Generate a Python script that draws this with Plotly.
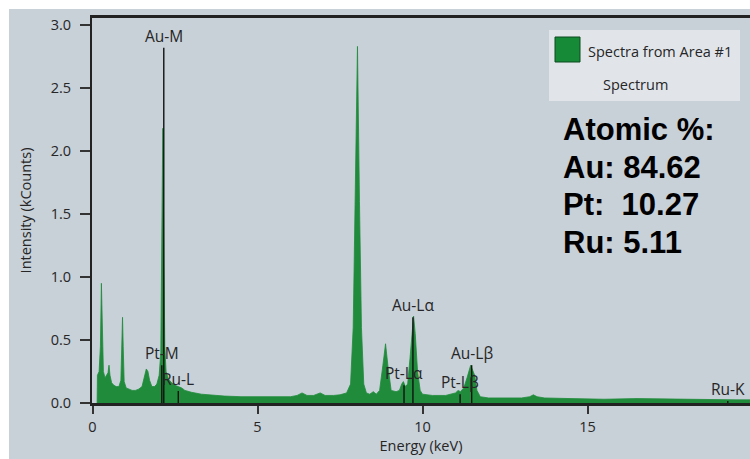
import plotly.graph_objects as go

# ---------------- data ----------------
energy_kev = [0.14, 0.15, 0.20, 0.24, 0.27, 0.30, 0.33, 0.38, 0.42, 0.47, 0.50, 0.53, 0.58, 0.65,
              0.72, 0.80, 0.86, 0.89, 0.91, 0.93, 0.96, 1.02, 1.10, 1.20, 1.30, 1.40, 1.50, 1.57,
              1.63, 1.68, 1.73, 1.80, 1.88, 1.95, 2.02, 2.07, 2.10, 2.13, 2.16, 2.19, 2.23, 2.30,
              2.40, 2.50, 2.60, 2.70, 2.80, 3.00, 3.30, 3.70, 4.00, 4.50, 5.00, 5.50, 6.00, 6.20,
              6.35, 6.50, 6.70, 6.90, 7.05, 7.30, 7.50, 7.70, 7.82, 7.90, 7.96, 8.03, 8.09, 8.15,
              8.22, 8.30, 8.40, 8.51, 8.60, 8.70, 8.80, 8.88, 8.95, 9.05, 9.20, 9.30, 9.37, 9.42,
              9.48, 9.55, 9.62, 9.70, 9.73, 9.78, 9.85, 9.93, 10.00, 10.30, 10.70, 11.00, 11.08,
              11.15, 11.25, 11.35, 11.46, 11.52, 11.58, 11.65, 11.75, 12.00, 12.50, 13.00, 13.25,
              13.36, 13.47, 13.70, 14.50, 15.50, 16.50, 17.50, 18.50, 19.50, 20.00]
counts_k = [0.00, 0.22, 0.25, 0.45, 0.95, 0.45, 0.25, 0.20, 0.22, 0.24, 0.30, 0.22, 0.16, 0.14,
            0.13, 0.13, 0.18, 0.45, 0.68, 0.45, 0.17, 0.12, 0.11, 0.10, 0.10, 0.11, 0.13, 0.20,
            0.27, 0.25, 0.18, 0.13, 0.13, 0.15, 0.22, 0.40, 1.20, 2.18, 1.30, 0.45, 0.25, 0.19,
            0.16, 0.14, 0.13, 0.12, 0.10, 0.085, 0.07, 0.06, 0.055, 0.05, 0.05, 0.048, 0.05, 0.06,
            0.08, 0.06, 0.06, 0.08, 0.06, 0.06, 0.065, 0.08, 0.15, 0.60, 1.60, 2.83, 1.60, 0.60,
            0.15, 0.08, 0.07, 0.09, 0.07, 0.10, 0.30, 0.47, 0.30, 0.10, 0.09, 0.10, 0.15, 0.17,
            0.13, 0.15, 0.35, 0.62, 0.69, 0.55, 0.25, 0.10, 0.07, 0.06, 0.06, 0.08, 0.10,
            0.09, 0.12, 0.20, 0.30, 0.26, 0.22, 0.10, 0.05, 0.04, 0.04, 0.04, 0.05,
            0.065, 0.05, 0.04, 0.035, 0.03, 0.035, 0.03, 0.03, 0.025, 0.025]

element_names = ["Au-M", "Pt-M", "Ru-L", "Pt-Lα", "Au-Lα", "Pt-Lβ", "Au-Lβ", "Ru-K"]
element_energy = [2.16, 2.10, 2.60, 9.44, 9.71, 11.14, 11.49, 19.25]
element_height = [2.82, 0.30, 0.095, 0.14, 0.68, 0.07, 0.30, 0.015]

x_ticks = [0, 5, 10, 15]
y_ticks = [0.0, 0.5, 1.0, 1.5, 2.0, 2.5, 3.0]

legend_label = "Spectra from Area #1"
legend_sub = "Spectrum"
composition_lines = ["Atomic %:", "Au: 84.62", "Pt:\u00a0 10.27", "Ru: 5.11"]

# ---------------- layout geometry (window pixels) ----------------
W, H = 750, 459
ML, MR, MT, MB = 92, 0, 18, 56
PW, PH = W - ML - MR, H - MT - MB


def px(xp):
    return (xp - ML) / PW


def py(yp):
    return (H - MB - yp) / PH


BG = "#c8d0d8"
TXT = "#262626"
GREEN = "#1f8b3b"
FONT = "Open Sans"

fig = go.Figure()

fig.add_trace(go.Scatter(
    x=energy_kev, y=counts_k, mode="lines", fill="tozeroy",
    line=dict(color=GREEN, width=0.8), fillcolor=GREEN,
    name=legend_label, showlegend=False, hoverinfo="skip"))

lx, ly = [], []
for e, h in zip(element_energy, element_height):
    lx += [e, e, None]
    ly += [0, h, None]
fig.add_trace(go.Scatter(x=lx, y=ly, mode="lines", line=dict(color="#111111", width=1.4),
                         showlegend=False, hoverinfo="skip"))

annotations = []
for name, e, h in zip(element_names, element_energy, element_height):
    annotations.append(dict(x=e, y=h, xref="x", yref="y", text=name, showarrow=False,
                            xanchor="center", yanchor="bottom", yshift=-1,
                            font=dict(family=FONT, size=15.5, color=TXT)))

shapes = [
    # white frame strips at top and left (as in the reference screenshot)
    dict(type="rect", xref="paper", yref="paper", x0=px(-2), x1=px(W + 2), y0=py(9), y1=py(-2),
         fillcolor="white", line=dict(width=0), layer="below"),
    dict(type="rect", xref="paper", yref="paper", x0=px(-2), x1=px(9), y0=py(H + 2), y1=py(-2),
         fillcolor="white", line=dict(width=0), layer="below"),
    # legend box
    dict(type="rect", xref="paper", yref="paper", x0=px(549), x1=px(740), y0=py(101), y1=py(30),
         fillcolor="#e1e5ea", line=dict(width=0), layer="below"),
    dict(type="rect", xref="paper", yref="paper", x0=px(555), x1=px(580), y0=py(62), y1=py(37),
         fillcolor="#178a38", line=dict(color="#0c4a1e", width=1), layer="above"),
]
annotations.append(dict(x=px(586), y=py(51), xref="paper", yref="paper", text=legend_label,
                        showarrow=False, xanchor="left", yanchor="middle",
                        font=dict(family=FONT, size=14.5, color=TXT)))
annotations.append(dict(x=px(635), y=py(85), xref="paper", yref="paper", text=legend_sub,
                        showarrow=False, xanchor="center", yanchor="middle",
                        font=dict(family=FONT, size=14.5, color=TXT)))

for i, t in enumerate(composition_lines):
    cy = 129.5 + 37.5 * i
    annotations.append(dict(x=px(561), y=py(cy), xref="paper", yref="paper", text="<b>%s</b>" % t,
                            showarrow=False, xanchor="left", yanchor="middle",
                            font=dict(family="Liberation Sans", size=31, color="#000000")))

fig.update_layout(
    width=W, height=H,
    margin=dict(l=ML, r=MR, t=MT, b=MB),
    paper_bgcolor=BG, plot_bgcolor="rgba(0,0,0,0)",
    shapes=shapes, annotations=annotations,
    showlegend=False,
    font=dict(family=FONT, size=14.5, color=TXT),
)
fig.update_xaxes(
    range=[-0.015, PW / 33 - 0.015], tickvals=x_ticks, ticktext=[str(v) for v in x_ticks],
    ticks="outside", ticklen=8, tickwidth=1.5, tickcolor="#333333", ticklabelstandoff=1,
    showline=True, linewidth=2.5, linecolor="#222222", mirror=True,
    showgrid=False, zeroline=False,
    title=dict(text="Energy (keV)", standoff=5, font=dict(family=FONT, size=14.5, color=TXT)),
    tickfont=dict(family=FONT, size=14.5, color=TXT),
)
fig.update_yaxes(
    range=[0, PH / 126], tickvals=y_ticks, ticktext=["%.1f" % v for v in y_ticks],
    ticks="outside", ticklen=10, tickwidth=1.5, tickcolor="#333333", ticklabelstandoff=6,
    showline=True, linewidth=2, linecolor="#222222",
    showgrid=False, zeroline=False,
    title=dict(text="Intensity (kCounts)", standoff=16, font=dict(family=FONT, size=14.5, color=TXT)),
    tickfont=dict(family=FONT, size=14.5, color=TXT),
)

fig.write_html("out.html", config={"displayModeBar": False},
               post_script="document.body.style.margin='0';")
